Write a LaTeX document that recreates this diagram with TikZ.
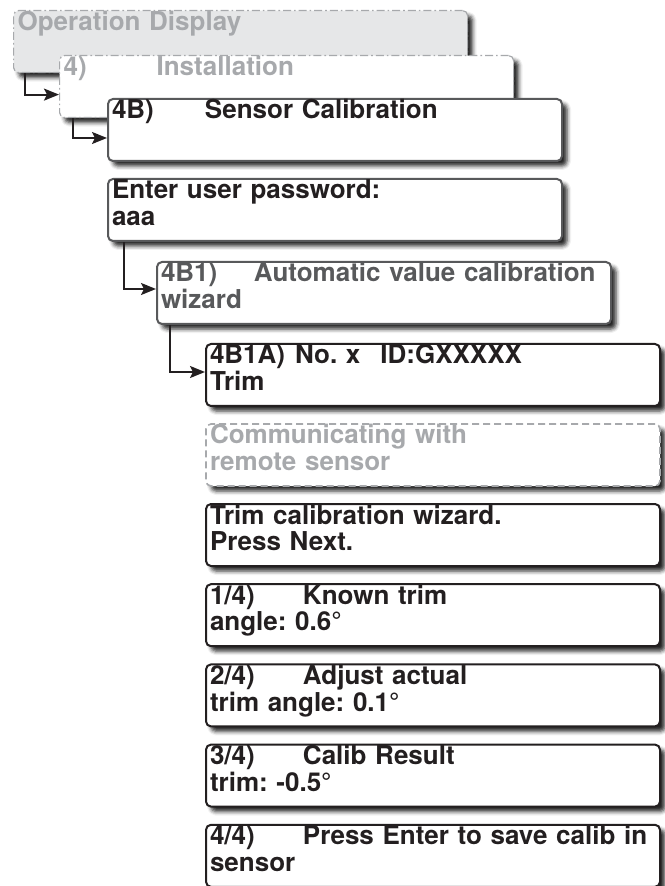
\documentclass[tikz,border=0pt]{standalone}
\usepackage{fontspec}
\setmainfont{TeX Gyre Heros}
\usetikzlibrary{positioning,arrows.meta,shadows.blur}

\definecolor{scrblack}{HTML}{231F20}
\definecolor{scrdark}{HTML}{58595B}
\definecolor{scrgray}{HTML}{A7A9AC}
\definecolor{scrfill}{HTML}{E6E7E8}

\newcommand{\tabbox}[1]{\makebox[46.5pt][l]{#1}}

\begin{document}
\frenchspacing
\begin{tikzpicture}[x=0.5pt, y=-0.5pt, node distance=8.1pt]
    % Estilos
    \tikzstyle{screen} = [rectangle, draw=scrblack, line width=1pt, rounded corners=2.5pt, fill=white, anchor=north west, text width=223pt, align=left, inner xsep=2pt, inner ysep=0.5pt, text height=9.5pt, text depth=20.5pt, font=\fontsize{13}{13.3}\selectfont\bfseries, text=scrblack, blur shadow={shadow xshift=2.5pt, shadow yshift=-2.5pt, shadow blur radius=2pt, shadow opacity=85}]
    \tikzstyle{parent} = [draw=scrgray, text=scrgray, line width=0.6pt, dash pattern=on 4pt off 1.5pt on 0.8pt off 1.5pt]
    \tikzstyle{pending} = [draw=scrgray, text=scrgray, line width=0.8pt, dash pattern=on 3.5pt off 2pt]
    \tikzstyle{arrow} = [line width=1pt, draw=scrblack, -{Stealth[length=7.5pt, width=6pt, inset=1.5pt]}]

    \useasboundingbox (0,0) rectangle (664,886);

    % Nodos
    \node (opdisp) [screen, parent, fill=scrfill] at (13,10) {Operation Display};
    \node (install) [screen, parent] at (59,55) {\tabbox{4)}Installation};
    \node (senscal) [screen, draw=scrdark] at (107,98) {\tabbox{4B)}Sensor Calibration};
    \node (passwd) [screen, draw=scrdark] at (107,178) {Enter user password:\\aaa};
    \node (autowiz) [screen, draw=scrdark, text=scrdark] at (156,261) {\tabbox{4B1)}Automatic value calibration\\wizard};
    \node (trimid) [screen] at (205,343) {4B1A)\hspace{5pt}No. x\hspace{10pt}ID:GXXXXX\\Trim};
    \node (comm) [screen, pending, below=of trimid] {Communicating with\\remote sensor};
    \node (trimwiz) [screen, below=of comm] {Trim calibration wizard.\\Press Next.};
    \node (known) [screen, below=of trimwiz] {\tabbox{1/4)}Known trim\\angle: 0.6°};
    \node (adjust) [screen, below=of known] {\tabbox{2/4)}Adjust actual\\trim angle: 0.1°};
    \node (result) [screen, below=of adjust] {\tabbox{3/4)}Calib Result\\trim: -0.5°};
    \node (save) [screen, below=of result] {\tabbox{4/4)}Press Enter to save calib in\\sensor};

    % Flechas
    \draw [arrow] ([xshift=6pt]opdisp.south west) |- ([yshift=-4pt]install.west);
    \draw [arrow] ([xshift=7pt]install.south west) |- ([yshift=-4pt]senscal.west);
    \draw [arrow] ([xshift=8.5pt]passwd.south west) |- ([yshift=2pt]autowiz.west);
    \draw [arrow] ([xshift=7pt]autowiz.south west) |- ([yshift=1.5pt]trimid.west);
\end{tikzpicture}
\end{document}
